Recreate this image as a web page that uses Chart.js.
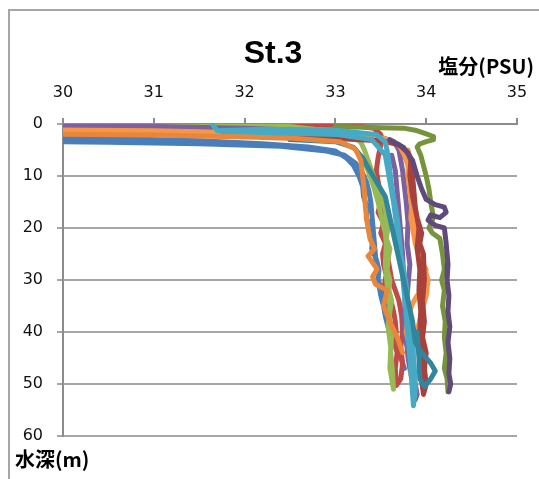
<!DOCTYPE html>
<html>
<head>
<meta charset="utf-8">
<script src="https://cdn.jsdelivr.net/npm/chart.js@4/dist/chart.umd.min.js"></script>
<style>
  html, body { margin: 0; padding: 0; background: #fff; overflow: hidden; }
  #frame { position: absolute; left: 8px; top: 9px; width: 700px; height: 700px; border: 2px solid #a6a6a6; }
  #wrap { position: absolute; left: 0; top: 0; width: 539px; height: 479px; }
</style>
</head>
<body>
<div id="frame"></div>
<div id="wrap"><canvas id="c" width="539" height="479"></canvas></div>
<script>
// ---- text ----
const chartTitle = 'St.3';
const xAxisTitle = '塩分(PSU)';
const yAxisTitle = '水深(m)';

// ---- tick labels ----
const salinityTicks = [30, 31, 32, 33, 34, 35];
const depthTicks = [0, 10, 20, 30, 40, 50, 60];

// ---- series values (salinity PSU, depth m); each cast goes down then back up ----
const blueSal = [29.0, 30.5, 31.5, 32.2, 32.7, 33.0, 33.12, 33.2, 33.26, 33.3, 33.31, 33.35, 33.34, 33.38, 33.41, 33.4, 33.45, 33.48, 33.47, 33.52, 33.55, 33.57, 33.6, 33.64, 33.66, 33.71, 33.74, 33.76, 33.72, 33.67, 33.62, 33.58, 33.55, 33.53, 33.5, 33.48, 33.47, 33.45, 33.44, 33.43, 33.42, 33.41, 33.4, 33.39, 33.37, 33.34, 33.3, 33.22, 33.1, 32.9, 32.4, 31.5, 30.5, 29.0];
const blueDep = [2.4, 2.8, 3.2, 3.8, 4.4, 5.2, 6.5, 8, 10, 12, 14, 16, 18, 20, 22, 24, 26, 28, 30, 32, 34, 36, 38, 40, 42, 44, 46, 47, 45, 43, 41, 39, 37, 35, 33, 31, 29, 27, 25, 23, 21, 19, 17, 15, 13, 11, 9.5, 7.5, 6, 5.2, 4.3, 3.8, 3.5, 3.3];

const redSal = [30.9, 31.5, 32.5, 33.2, 33.42, 33.5, 33.5, 33.47, 33.45, 33.48, 33.5, 33.47, 33.53, 33.5, 33.55, 33.52, 33.53, 33.56, 33.54, 33.6, 33.64, 33.66, 33.67, 33.65, 33.68, 33.66, 33.67, 33.72, 33.74, 33.72, 33.74, 33.73, 33.7, 33.66, 33.62, 33.6, 33.58, 33.57, 33.55, 33.52, 33.5];
const redDep = [0.1, 0.1, 0.2, 0.3, 0.8, 2, 4, 6.5, 9, 12, 15, 17, 19, 21, 23, 25, 27, 29, 31, 33, 36, 38, 40, 42, 44, 47, 50.3, 49, 46, 43, 40, 37, 34, 32, 30, 28, 26, 24, 22, 18, 14];

const greenSal = [29.0, 31.0, 32.5, 33.0, 33.2, 33.28, 33.32, 33.36, 33.4, 33.45, 33.5, 33.55, 33.58, 33.56, 33.6, 33.58, 33.57, 33.6, 33.59, 33.62, 33.6, 33.59, 33.62, 33.61, 33.63, 33.64, 33.6, 33.61, 33.58, 33.6, 33.57, 33.55, 33.56, 33.55, 33.52, 33.47, 33.42, 33.36, 33.3];
const greenDep = [0, 0.1, 0.5, 1.5, 2.5, 3.5, 5, 7, 9, 11.5, 14, 16.5, 20, 22, 24, 26, 28, 30, 32, 34, 36, 38, 40, 44, 48, 51, 47, 43, 39, 35, 31, 27, 23, 21, 19, 15, 12, 9, 6.5];

const purpleSal = [29.0, 31.0, 32.0, 33.0, 33.5, 33.65, 33.7, 33.72, 33.74, 33.76, 33.78, 33.8, 33.79, 33.82, 33.8, 33.78, 33.76, 33.8, 33.85, 33.88, 33.9, 33.88, 33.84, 33.8, 33.78, 33.76, 33.77, 33.75, 33.74, 33.72, 33.7, 33.68, 33.66, 33.62];
const purpleDep = [0.3, 0.5, 0.8, 1.5, 2.5, 3.5, 5, 7, 9, 12, 15, 19, 23, 27, 31, 35, 40, 44, 47, 50, 52, 53, 49, 45, 41, 37, 33, 29, 25, 21, 17, 13, 9, 6];

const cyanSal = [31.65, 31.7, 32.2, 33.0, 33.45, 33.55, 33.58, 33.6, 33.62, 33.65, 33.68, 33.7, 33.72, 33.74, 33.76, 33.78, 33.8, 33.82, 33.84, 33.85, 33.86, 33.88, 33.87, 33.85, 33.83, 33.8, 33.78, 33.74, 33.7, 33.67, 33.64, 33.6, 33.55, 33.4, 33.0, 32.3, 31.75];
const cyanDep = [0.2, 1.3, 1.0, 1.2, 2.0, 3.5, 6, 9, 12, 15, 18, 21, 25, 29, 33, 37, 41, 45, 49, 52, 54.2, 51, 47, 43, 39, 35, 31, 27, 23, 19, 15, 11, 6, 3, 2.0, 1.7, 1.5];

const orangeSal = [29.0, 31.0, 32.0, 33.0, 33.55, 33.7, 33.76, 33.8, 33.8, 33.82, 33.84, 33.83, 33.85, 33.88, 33.92, 33.95, 34.0, 33.98, 34.01, 33.98, 33.9, 33.85, 33.8, 33.78, 33.82, 33.85, 33.83, 33.86, 33.9, 33.95, 34.0, 34.02, 33.97, 33.92, 33.88, 33.86, 33.85, 33.84, 33.8];
const orangeDep = [1.0, 1.3, 1.7, 2.2, 2.8, 4.0, 6, 8, 10, 13, 16, 18, 20, 23, 25, 26.5, 28, 29.5, 30.5, 31.5, 33, 34.5, 37, 40, 43, 46, 48, 44, 40, 36, 33, 30, 27, 24, 20, 16, 12, 8, 5];

const darkRedSal = [32.2, 33.0, 33.5, 33.7, 33.8, 33.83, 33.82, 33.85, 33.9, 33.95, 33.93, 33.97, 33.98, 33.96, 33.98, 33.96, 34.0, 33.98, 34.0, 33.97, 33.94, 33.95, 33.93, 33.94, 33.92, 33.93, 33.9, 33.92, 33.88, 33.86, 33.84];
const darkRedDep = [2.6, 2.8, 3.2, 4, 5.5, 7, 10, 14, 18, 21, 23, 25, 30, 34, 38, 41, 44, 47, 50, 52, 48, 44, 40, 36, 32, 28, 24, 20, 16, 12, 8];

const oliveSal = [33.0, 33.5, 33.75, 33.88, 34.0, 34.08, 34.08, 34.0, 33.93, 33.9, 33.94, 33.97, 34.0, 34.03, 34.05, 34.08, 34.03, 34.07, 34.15, 34.18, 34.2, 34.17, 34.2, 34.18, 34.21, 34.2, 34.22, 34.2, 34.23, 34.24];
const oliveDep = [0.5, 0.7, 0.8, 1.2, 1.9, 2.4, 3.0, 3.4, 3.8, 4.4, 6, 8, 10, 12.5, 15, 18, 20, 21, 22, 25, 28, 30, 32, 35, 38, 41, 44, 47, 49, 51.5];

const darkPurpleSal = [33.6, 33.75, 33.85, 33.9, 33.95, 34.0, 34.1, 34.2, 34.22, 34.15, 34.05, 34.02, 34.1, 34.2, 34.22, 34.24, 34.23, 34.25, 34.24, 34.26, 34.24, 34.26, 34.25, 34.27, 34.25];
const darkPurpleDep = [3.0, 4.5, 7, 10, 12.5, 14.5, 15.5, 16, 17, 18, 17.5, 18.5, 19.5, 20, 23, 27, 30, 33, 36, 39, 42, 45, 48, 50, 51.5];

const tealSal = [32.5, 33.0, 33.2, 33.3, 33.38, 33.45, 33.55, 33.6, 33.65, 33.7, 33.75, 33.8, 33.85, 33.88, 33.95, 34.05, 34.1, 34.05, 33.98, 33.93, 33.92, 33.9];
const tealDep = [3.0, 3.4, 4.5, 6.5, 9, 11, 14, 18, 22, 26, 30, 34, 38, 42, 44, 46, 47.5, 49, 50.5, 49, 45, 40];

const darkOrangeSal = [29.0, 31.0, 32.5, 33.05, 33.22, 33.28, 33.3, 33.32, 33.33, 33.35, 33.38, 33.43, 33.36, 33.46, 33.41, 33.44, 33.57, 33.53, 33.6, 33.68, 33.74];
const darkOrangeDep = [1.8, 2.1, 2.7, 3.4, 4.8, 7, 10, 13, 16, 19, 22, 24, 25.4, 27.9, 29.4, 30.8, 32, 35, 38, 41, 44];

// ---- build datasets (layer: higher = drawn on top) ----
function pts(s, d) { return s.map((v, i) => ({ x: v, y: d[i] })); }
const seriesList = [
  { label: 'cast 1', sal: blueSal, dep: blueDep, color: '#4A7EBB', layer: 1 },
  { label: 'cast 2', sal: redSal, dep: redDep, color: '#BE4B48', layer: 2 },
  { label: 'cast 3', sal: greenSal, dep: greenDep, color: '#98B954', layer: 3 },
  { label: 'cast 4', sal: purpleSal, dep: purpleDep, color: '#7D60A0', layer: 4 },
  { label: 'cast 5', sal: cyanSal, dep: cyanDep, color: '#46AAC5', layer: 9 },
  { label: 'cast 6', sal: orangeSal, dep: orangeDep, color: '#F79646', layer: 5 },
  { label: 'cast 7', sal: darkRedSal, dep: darkRedDep, color: '#A8403C', layer: 6 },
  { label: 'cast 8', sal: oliveSal, dep: oliveDep, color: '#77933C', layer: 7 },
  { label: 'cast 9', sal: darkPurpleSal, dep: darkPurpleDep, color: '#5F4A7B', layer: 8 },
  { label: 'cast 10', sal: tealSal, dep: tealDep, color: '#31859C', layer: 10 },
  { label: 'cast 11', sal: darkOrangeSal, dep: darkOrangeDep, color: '#E8873A', layer: 11 }
];
const datasets = seriesList.map((s) => ({
  label: s.label,
  data: pts(s.sal, s.dep),
  showLine: true,
  borderColor: s.color,
  backgroundColor: s.color,
  borderWidth: 5,
  pointRadius: 0,
  tension: 0,
  borderJoinStyle: 'round',
  borderCapStyle: 'round',
  order: 20 - s.layer
}));

const axisTitlesPlugin = {
  id: 'axisTitles',
  afterDraw(chart) {
    const { ctx, chartArea } = chart;
    ctx.save();
    ctx.fillStyle = '#000';
    ctx.font = 'bold 20px "Noto Sans CJK JP"';
    ctx.textBaseline = 'middle';
    ctx.textAlign = 'right';
    ctx.fillText(xAxisTitle, chartArea.right + 17, 66);
    ctx.textAlign = 'left';
    ctx.fillText(yAxisTitle, 15, 459);
    ctx.restore();
  }
};

const axisColor = '#8c8c8c';
new Chart(document.getElementById('c'), {
  type: 'scatter',
  data: { datasets },
  plugins: [axisTitlesPlugin],
  options: {
    responsive: false,
    animation: false,
    devicePixelRatio: 1,
    layout: { padding: { left: 12, right: 5, top: 0, bottom: 43 } },
    plugins: {
      legend: { display: false },
      tooltip: { enabled: false },
      title: {
        display: true,
        text: chartTitle,
        color: '#000',
        font: { family: '"Liberation Sans", Arial, sans-serif', size: 32, weight: 'bold', lineHeight: 1.2 },
        padding: { top: 35, bottom: -20 }
      }
    },
    scales: {
      x: {
        type: 'linear',
        position: 'top',
        min: 30, max: 35,
        afterBuildTicks: (s) => { s.ticks = salinityTicks.map(v => ({ value: v })); },
        afterFit: (s) => { s.height = 124 - 53.4; s.paddingRight = 22; s.paddingLeft = 10; },
        grid: { drawOnChartArea: false, drawTicks: true, tickLength: 6, color: axisColor, lineWidth: 2 },
        border: { display: true, color: axisColor, width: 2 },
        ticks: { color: '#111', padding: 16, font: { family: '"DejaVu Sans"', size: 16 } }
      },
      y: {
        type: 'linear',
        reverse: true,
        min: 0, max: 60,
        afterBuildTicks: (s) => { s.ticks = depthTicks.map(v => ({ value: v })); },
        afterFit: (s) => { s.width = 63 - 12; },
        grid: { drawOnChartArea: true, drawTicks: true, tickLength: 6, color: '#a6a6a6', lineWidth: 2 },
        border: { display: true, color: axisColor, width: 2 },
        ticks: { color: '#111', padding: 14, font: { family: '"DejaVu Sans"', size: 16 } }
      }
    }
  }
});
</script>
</body>
</html>
